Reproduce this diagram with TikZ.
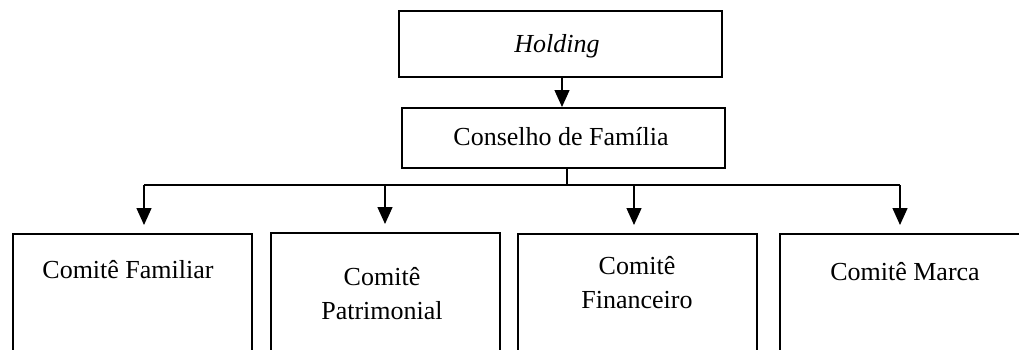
\documentclass[tikz,border=0pt]{standalone}
\usepackage{fontspec}
\setmainfont{Liberation Serif}
\usetikzlibrary{arrows.meta}

\tikzset{
  box/.style={draw, line width=1.6pt, rectangle, inner sep=0pt, anchor=north west},
  lbl/.style={anchor=base, inner sep=0pt, align=center,
              font=\fontsize{26}{34.5}\selectfont},
  link/.style={line width=1.4pt, -{Triangle[width=15pt,length=17pt]}},
  bus/.style={line width=1.4pt}
}

\begin{document}
\begin{tikzpicture}[x=1pt, y=-1pt]
  \useasboundingbox (0,0) rectangle (1019,349);
  \clip (0,0) rectangle (1019,349);

  % top of the hierarchy
  \node[box, minimum width=323pt, minimum height=66pt] (holding) at (398,10) {};
  \node[lbl] (holdingtxt) at (557,52) {\textit{Holding}};

  \node[box, minimum width=323pt, minimum height=60pt] (conselho) at (401,107) {};
  \node[lbl] (conselhotxt) at (561,145) {Conselho de Família};

  % committees (open at the bottom of the page)
  \node[box, minimum width=239pt, minimum height=140pt] (familiar) at (12,233) {};
  \node[box, minimum width=229pt, minimum height=140pt] (patrimonial) at (270,232) {};
  \node[box, minimum width=239pt, minimum height=140pt] (financeiro) at (517,233) {};
  \node[box, minimum width=252pt, minimum height=140pt] (marca) at (779,233) {};

  \node[lbl] (familiartxt) at (128,278) {Comitê Familiar};
  \node[lbl, anchor=north] (patrimonialtxt) at (382,267) {Comitê\\Patrimonial};
  \node[lbl, anchor=north] (financeirotxt) at (637,256) {Comitê\\Financeiro};
  \node[lbl] (marcatxt) at (905,280) {Comitê Marca};

  % connectors
  \coordinate (hsrc) at (562,76);
  \draw[link] (hsrc) -- (hsrc |- conselho.north);

  \coordinate (trunk) at (567,185);
  \coordinate (b1) at (144,185);
  \coordinate (b2) at (385,185);
  \coordinate (b3) at (634,185);
  \coordinate (b4) at (900,185);
  \draw[bus] (trunk |- conselho.south) -- (trunk);
  \draw[bus] (b1) -- (b4);
  \draw[link, shorten >=8pt] (b1) -- (b1 |- familiar.north);
  \draw[link, shorten >=8pt] (b2) -- (b2 |- patrimonial.north);
  \draw[link, shorten >=8pt] (b3) -- (b3 |- financeiro.north);
  \draw[link, shorten >=8pt] (b4) -- (b4 |- marca.north);
\end{tikzpicture}
\end{document}
